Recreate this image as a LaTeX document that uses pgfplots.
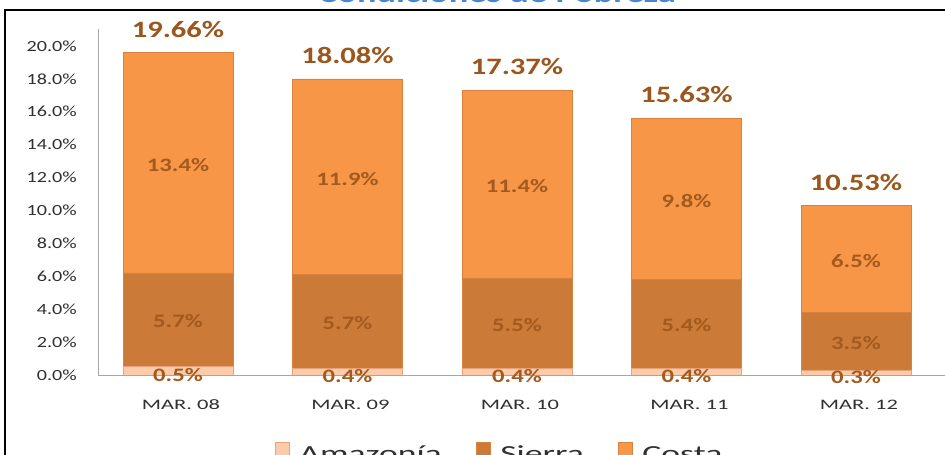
\documentclass[border=0pt]{standalone}
\usepackage{fontspec}
\setmainfont{Carlito}[FakeStretch=1.3]
\newfontfamily\widefont{Carlito}[FakeStretch=1.55]
\usepackage{pgfplots}
\usepackage{pgfplotstable}
\pgfplotsset{compat=1.18}
\definecolor{costa}{HTML}{F79646}
\definecolor{sierra}{HTML}{CC7A38}
\definecolor{amaz}{HTML}{FBCBAA}
\definecolor{edgec}{HTML}{D9823E}
\definecolor{amazedge}{HTML}{E9A27A}
\definecolor{seglab}{HTML}{A35A1E}
\definecolor{totlab}{HTML}{9A561C}
\definecolor{titleblue}{HTML}{4A86D0}
\definecolor{ticktext}{HTML}{303030}
\pgfplotstableread{
x a s c t
0 0.5 5.7 13.4 19.66
1 0.4 5.7 11.9 18.08
2 0.4 5.5 11.4 17.37
3 0.4 5.4 9.8 15.63
4 0.3 3.5 6.5 10.53
}\data
\begin{document}
\begin{tikzpicture}[x=1pt,y=1pt]
\clip (0,0) rectangle (945,455);
\fill[white] (0,0) rectangle (945,455);
\node[anchor=base, font=\bfseries\fontsize{28}{32}\selectfont, text=titleblue] at (497,452) {Condiciones de Pobreza};
\draw[line width=2pt, black] (5,-5) -- (5,445) -- (950,445);
\begin{axis}[
  at={(98pt,80pt)}, anchor=south west,
  scale only axis, width=859.7pt, height=345.5pt,
  xmin=-0.472, xmax=4.6, ymin=0, ymax=21,
  axis x line=bottom, axis y line=left,
  axis line style={-, draw=gray!70, line width=0.9pt},
  major tick length=0pt,
  ytick={0,2,...,20},
  xtick={0,1,2,3,4},
  xticklabels={MAR. 08,MAR. 09,MAR. 10,MAR. 11,MAR. 12},
  /pgf/number format/assume math mode=true,
  yticklabel={\pgfmathprintnumber[fixed,fixed zerofill,precision=1]{\tick}\%},
  y tick label style={font=\fontsize{15.5}{18}\selectfont, text=ticktext, anchor=east, inner sep=0pt, xshift=-21pt},
  x tick label style={font=\widefont\fontsize{14.5}{17}\selectfont, text=ticktext, anchor=base, inner sep=0pt, yshift=-34.3pt, xshift=3pt},
  ybar stacked, bar width=110pt,
  legend columns=3,
  legend style={at={(0.466,-0.225)}, anchor=center, draw=none, fill=none,
    font=\widefont\fontsize{23}{27}\selectfont, text=ticktext,
    nodes={inner sep=0pt},
    /tikz/every odd column/.append style={column sep=10pt},
    /tikz/every even column/.append style={column sep=34pt}},
  legend image code/.code={\draw[#1, line width=0.6pt] (0pt,-2pt) rectangle (14pt,12pt);},
  seg/.style={
    nodes near coords={\pgfmathprintnumber[fixed,fixed zerofill,precision=1]{\pgfplotspointmeta}\%},
    point meta=explicit,
    every node near coord/.append style={anchor=center,
      font=\bfseries\fontsize{19}{22}\selectfont, text=seglab}},
]
\addplot[fill=amaz, draw=amazedge, line width=0.6pt, seg,
  every node near coord/.append style={yshift=-4pt}] table[x=x, y=a, meta=a] {\data};
\addplot[fill=sierra, draw=edgec, line width=0.6pt, seg,
  every node near coord/.append style={yshift=-1.5pt}] table[x=x, y=s, meta=s] {\data};
\addplot[fill=costa, draw=edgec, line width=0.6pt, seg,
  every node near coord/.append style={yshift=-2pt}] table[x=x, y=c, meta=c] {\data};
\addplot[draw=none, fill=none, point meta=explicit symbolic,
  nodes near coords={\pgfplotspointmeta\%},
  every node near coord/.append style={anchor=base, yshift=15.5pt,
    font=\bfseries\fontsize{23.5}{27}\selectfont, text=totlab}]
  table[x=x, y expr=0.001, meta=t] {\data};
\legend{Amazonía,Sierra,Costa}
\end{axis}
\end{tikzpicture}
\end{document}
